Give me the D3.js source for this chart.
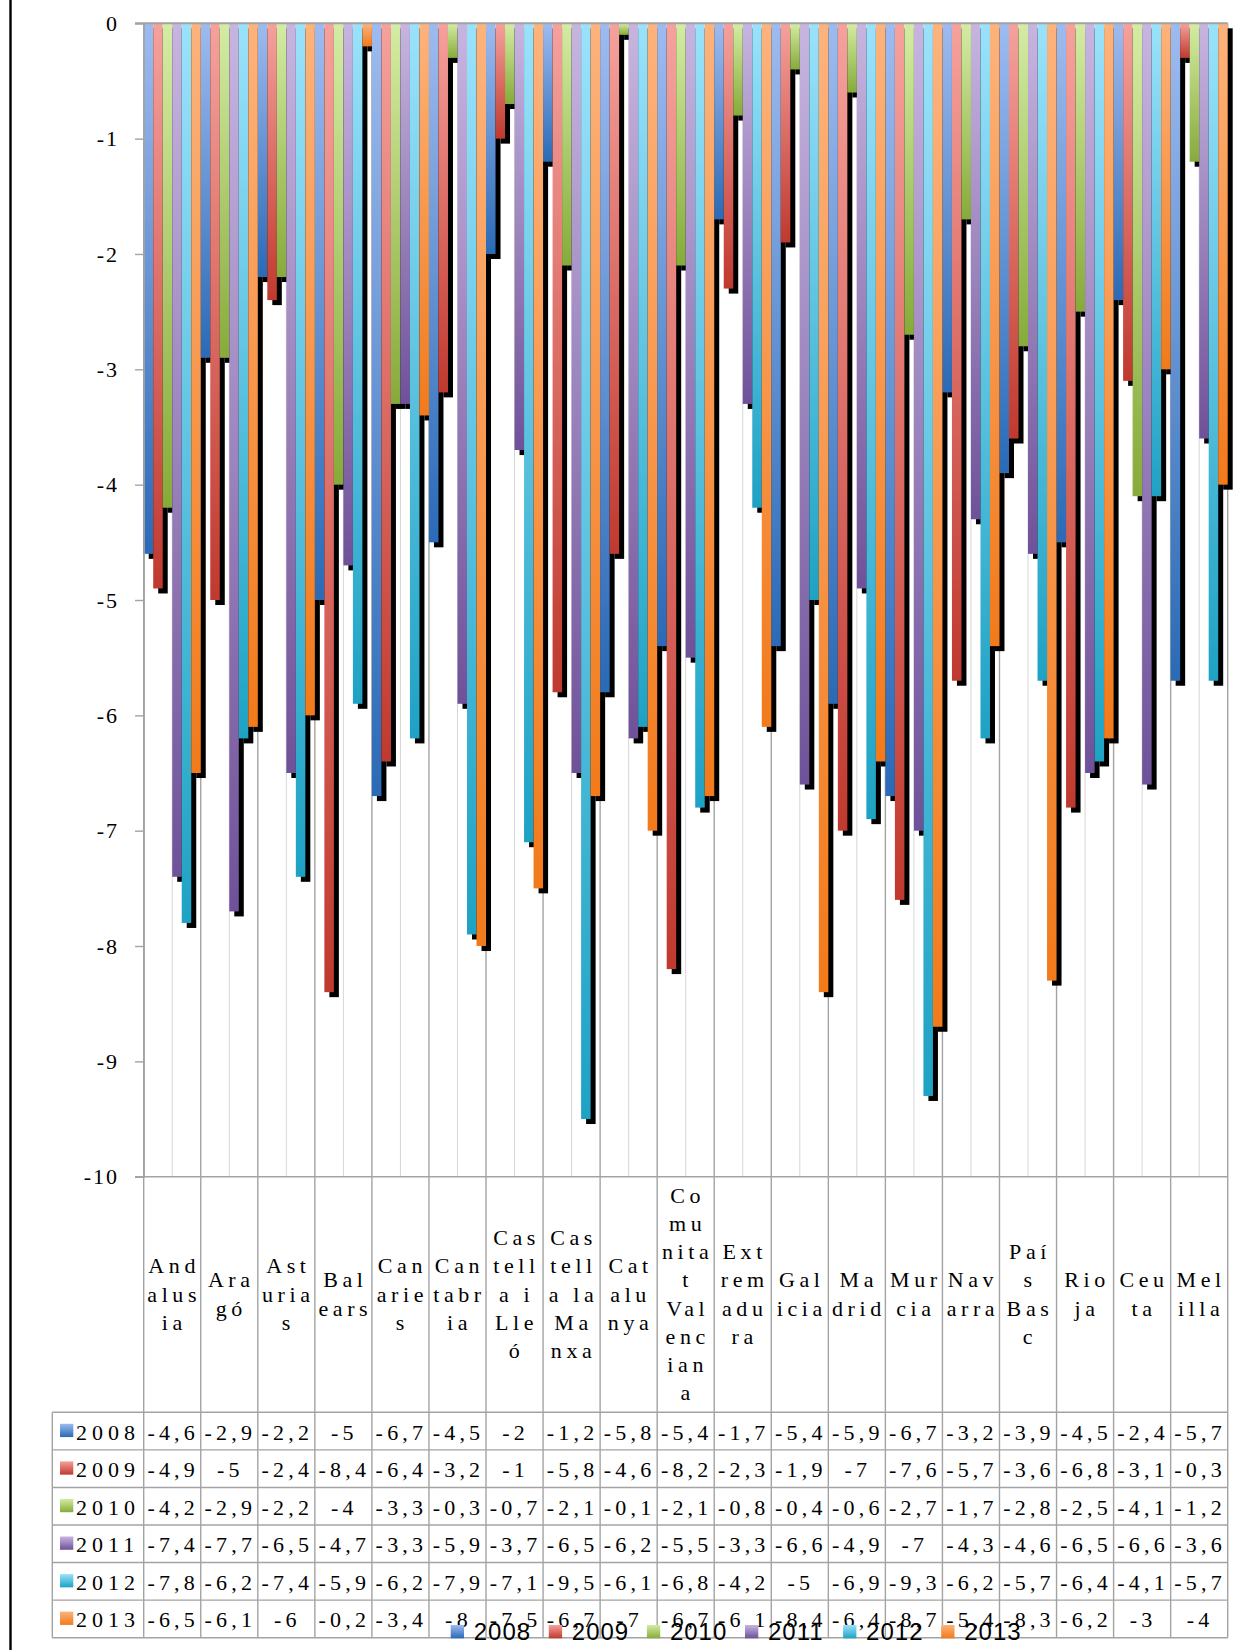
<!DOCTYPE html>
<html>
<head>
<meta charset="utf-8">
<script src="https://cdn.jsdelivr.net/npm/d3@7/dist/d3.min.js"></script>
<style>
  html, body { margin: 0; padding: 0; background: #fff; }
  svg { display: block; }
  .serif { font-family: "Liberation Serif", "Tinos", "Times New Roman", Times, "DejaVu Serif", serif; }
  .sans { font-family: "Liberation Sans", Arimo, Arial, sans-serif; }
</style>
</head>
<body>
<script>
// ---------- DATA ----------
const categories = ["Andalusia","Aragó","Asturias","Balears","Canaries","Cantabria","Castella i Lleó","Castella la Manxa","Catalunya","Comunitat Valenciana","Extremadura","Galicia","Madrid","Murcia","Navarra","País Basc","Rioja","Ceuta","Melilla"];
const categoryLines = [
  ["And","alus","ia"],["Ara","gó"],["Ast","uria","s"],["Bal","ears"],["Can","arie","s"],
  ["Can","tabr","ia"],["Cas","tell","a i","Lle","ó"],["Cas","tell","a la","Ma","nxa"],
  ["Cat","alu","nya"],["Co","mu","nita","t","Val","enc","ian","a"],["Ext","rem","adu","ra"],
  ["Gal","icia"],["Ma","drid"],["Mur","cia"],["Nav","arra"],["Paí","s","Bas","c"],
  ["Rio","ja"],["Ceu","ta"],["Mel","illa"]
];
const years = ["2008","2009","2010","2011","2012","2013"];
const v2008 = [-4.6,-2.9,-2.2,-5,-6.7,-4.5,-2,-1.2,-5.8,-5.4,-1.7,-5.4,-5.9,-6.7,-3.2,-3.9,-4.5,-2.4,-5.7];
const v2009 = [-4.9,-5,-2.4,-8.4,-6.4,-3.2,-1,-5.8,-4.6,-8.2,-2.3,-1.9,-7,-7.6,-5.7,-3.6,-6.8,-3.1,-0.3];
const v2010 = [-4.2,-2.9,-2.2,-4,-3.3,-0.3,-0.7,-2.1,-0.1,-2.1,-0.8,-0.4,-0.6,-2.7,-1.7,-2.8,-2.5,-4.1,-1.2];
const v2011 = [-7.4,-7.7,-6.5,-4.7,-3.3,-5.9,-3.7,-6.5,-6.2,-5.5,-3.3,-6.6,-4.9,-7,-4.3,-4.6,-6.5,-6.6,-3.6];
const v2012 = [-7.8,-6.2,-7.4,-5.9,-6.2,-7.9,-7.1,-9.5,-6.1,-6.8,-4.2,-5,-6.9,-9.3,-6.2,-5.7,-6.4,-4.1,-5.7];
const v2013 = [-6.5,-6.1,-6,-0.2,-3.4,-8,-7.5,-6.7,-7,-6.7,-6.1,-8.4,-6.4,-8.7,-5.4,-8.3,-6.2,-3,-4];
const yTicks = [0,-1,-2,-3,-4,-5,-6,-7,-8,-9,-10];

const seriesValues = [v2008, v2009, v2010, v2011, v2012, v2013];
const topColors = ["#9dbbf0","#f6a19c","#d4eca3","#c7b5e0","#9ae2fb","#fdb37c"];
const bottomColors = ["#2a6ab6","#c0392e","#86ab3a","#6f5199","#1ea2c4","#f27a1a"];

// ---------- LAYOUT ----------
const W = 1245, H = 1650;
const plotLeft = 143.7, plotRight = 1227.7;
const plotTop = 23.3, plotBottom = 1176.7;
const headerBottom = 1412.3, tableBottom = 1637.7, legendColLeft = 52.3;
const rowH = (tableBottom - headerBottom) / years.length;
const gridDark = "#a3a3a3", gridLight = "#d6d6d6";

const svg = d3.select("body").append("svg").attr("width", W).attr("height", H);
const defs = svg.append("defs");
years.forEach((yr, i) => {
  const g = defs.append("linearGradient").attr("id", "grad" + i)
    .attr("x1", 0).attr("y1", 0).attr("x2", 0).attr("y2", 1);
  g.append("stop").attr("offset", "0%").attr("stop-color", topColors[i]);
  g.append("stop").attr("offset", "100%").attr("stop-color", bottomColors[i]);
});

const x = d3.scaleBand().domain(categories).range([plotLeft, plotRight]).paddingInner(0).paddingOuter(0);
const xs = d3.scaleBand().domain(years).range([0, x.bandwidth()]).padding(0);
const y = d3.scaleLinear().domain([0, -10]).range([plotTop, plotBottom]);

// Outer left border
svg.append("rect").attr("x", 9.3).attr("y", 0).attr("width", 2.4).attr("height", H).attr("fill", "#000");

// Vertical grid lines (category centers light, boundaries dark)
svg.append("g").selectAll("line.c").data(categories).join("line")
  .attr("x1", d => x(d) + x.bandwidth() / 2).attr("x2", d => x(d) + x.bandwidth() / 2)
  .attr("y1", y(0)).attr("y2", y(-10))
  .attr("stroke", gridLight).attr("stroke-width", 1);
const boundaries = categories.map(d => x(d)).concat([plotRight]);
svg.append("g").selectAll("line").data(boundaries).join("line")
  .attr("x1", d => d).attr("x2", d => d)
  .attr("y1", y(0)).attr("y2", tableBottom)
  .attr("stroke", gridDark).attr("stroke-width", 1.4);

// Flatten bar data
const bars = [];
seriesValues.forEach((vals, si) => {
  vals.forEach((v, ci) => bars.push({ si, cat: categories[ci], year: years[si], v }));
});

// Shadows first
svg.append("g").selectAll("rect").data(bars).join("rect")
  .attr("x", d => x(d.cat) + xs(d.year) + 5)
  .attr("y", y(0) + 5)
  .attr("width", xs.bandwidth())
  .attr("height", d => y(d.v) - y(0))
  .attr("fill", "#000");

// Bars
svg.append("g").selectAll("rect").data(bars).join("rect")
  .attr("x", d => x(d.cat) + xs(d.year))
  .attr("y", y(0))
  .attr("width", xs.bandwidth())
  .attr("height", d => y(d.v) - y(0))
  .attr("fill", d => `url(#grad${d.si})`);

// Zero line and -10 line
svg.append("line").attr("x1", 135).attr("x2", plotRight).attr("y1", y(0)).attr("y2", y(0))
  .attr("stroke", gridDark).attr("stroke-width", 2);
svg.append("line").attr("x1", 135).attr("x2", plotRight).attr("y1", y(-10)).attr("y2", y(-10))
  .attr("stroke", gridDark).attr("stroke-width", 1.6);

// Y axis
const yAxis = d3.axisLeft(y).tickValues(yTicks).tickSize(8.7).tickPadding(16)
  .tickFormat(d => String(d));
const ya = svg.append("g").attr("transform", `translate(${plotLeft},0)`).call(yAxis);
ya.attr("font-family", null).attr("font-size", null);
ya.select(".domain").attr("stroke", gridDark).attr("stroke-width", 1.4);
ya.selectAll(".tick line").attr("stroke", gridDark).attr("stroke-width", 1.4);
ya.selectAll(".tick text").attr("class", "serif").attr("font-size", 22)
  .attr("letter-spacing", 2).attr("fill", "#000");

// Table: row lines
const rowEdges = d3.range(years.length + 1).map(i => headerBottom + i * rowH);
svg.append("g").selectAll("line").data(rowEdges).join("line")
  .attr("x1", legendColLeft).attr("x2", plotRight)
  .attr("y1", d => d).attr("y2", d => d)
  .attr("stroke", gridDark).attr("stroke-width", 1.4);
svg.append("line").attr("x1", legendColLeft).attr("x2", legendColLeft)
  .attr("y1", headerBottom).attr("y2", tableBottom)
  .attr("stroke", gridDark).attr("stroke-width", 1.4);

// Category header labels
const headerMid = (plotBottom + headerBottom) / 2;
const lineH = 28.1;
const hdr = svg.append("g").attr("class", "serif").attr("font-size", 22)
  .attr("letter-spacing", 4.6).attr("text-anchor", "middle").attr("fill", "#000");
categories.forEach((c, ci) => {
  const lines = categoryLines[ci];
  const n = lines.length;
  hdr.append("text")
    .selectAll("tspan").data(lines).join("tspan")
    .attr("x", x(c) + x.bandwidth() / 2 + 2)
    .attr("y", (d, i) => headerMid + 7 + (i - (n - 1) / 2) * lineH)
    .text(d => d);
});

// Table values and legend column
const tbl = svg.append("g").attr("class", "serif").attr("font-size", 22).attr("fill", "#000");
years.forEach((yr, si) => {
  const rowMid = headerBottom + (si + 0.5) * rowH;
  tbl.append("rect").attr("x", 60).attr("y", rowMid - 7.3).attr("width", 13.3).attr("height", 13.3)
    .attr("fill", `url(#grad${si})`);
  tbl.append("text").attr("x", 76).attr("y", rowMid + 8.5).attr("letter-spacing", 5).text(yr);
  seriesValues[si].forEach((v, ci) => {
    tbl.append("text")
      .attr("x", x(categories[ci]) + x.bandwidth() / 2 + 1)
      .attr("y", rowMid + 8.5)
      .attr("text-anchor", "middle").attr("letter-spacing", 4.2)
      .text(String(v).replace(".", ","));
  });
});

// Bottom legend (overlaps the last row, as in the reference)
const leg = svg.append("g").attr("class", "sans").attr("font-size", 24).attr("fill", "#000");
years.forEach((yr, si) => {
  const lx = 450.7 + si * 98.1;
  leg.append("rect").attr("x", lx).attr("y", 1625).attr("width", 13.3).attr("height", 13.3)
    .attr("fill", `url(#grad${si})`);
  leg.append("text").attr("x", lx + 23).attr("y", 1640).attr("letter-spacing", 1).text(yr);
});
</script>
</body>
</html>
